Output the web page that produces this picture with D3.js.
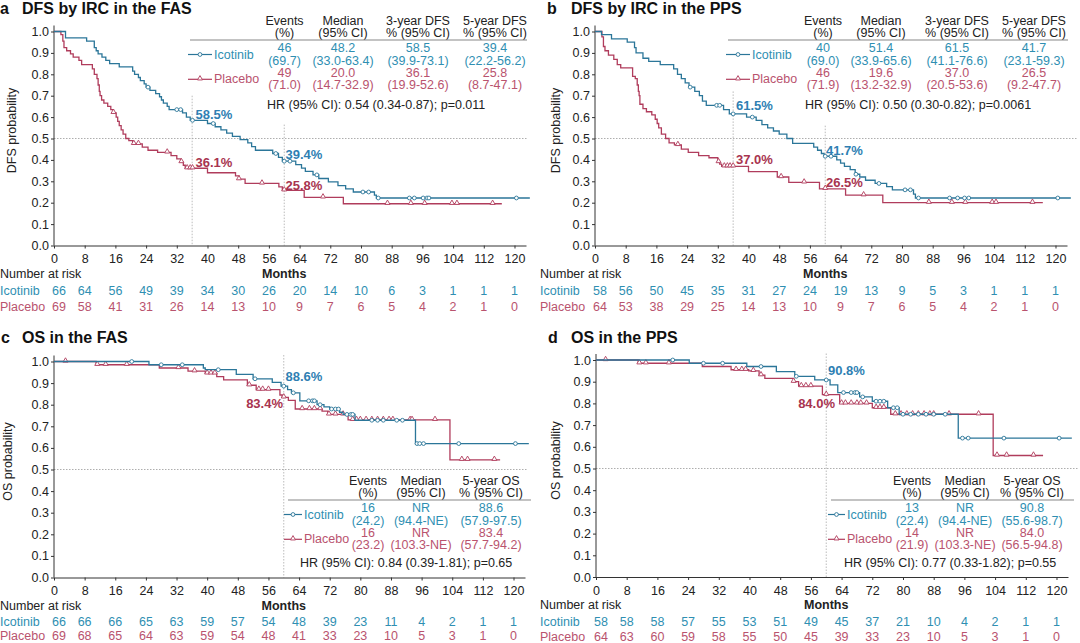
<!DOCTYPE html>
<html>
<head>
<meta charset="utf-8">
<script src="https://cdn.jsdelivr.net/npm/d3@7"></script>
<style>
  body { margin: 0; background: #fff; }
  svg { font-family: "Liberation Sans", Arial, sans-serif; }
</style>
</head>
<body>
<svg id="chart" width="1080" height="643"></svg>
<script>
// ---- data ----
var monthTicks = [0, 8, 16, 24, 32, 40, 48, 56, 64, 72, 80, 88, 96, 104, 112, 120];
var probTicks = [0, 0.1, 0.2, 0.3, 0.4, 0.5, 0.6, 0.7, 0.8, 0.9, 1.0];

// KM steps: [month, survival after the drop]; last point = last follow-up
var dfsFasIco = [[0,1],[3,0.97],[8.5,0.955],[10.5,0.925],[11,0.91],[11.5,0.895],[12.5,0.88],[13.5,0.865],[14.5,0.85],[17,0.835],[20.5,0.815],[21,0.8],[22,0.785],[22.5,0.77],[23.5,0.755],[24,0.74],[25,0.725],[26.5,0.71],[27.5,0.695],[28,0.68],[28.5,0.665],[29.5,0.65],[30,0.635],[33.5,0.62],[34.5,0.6],[35.5,0.585],[40,0.57],[42,0.555],[43.5,0.54],[45,0.525],[46.5,0.51],[48.5,0.495],[50.5,0.48],[51.5,0.462],[52.5,0.445],[57,0.43],[58.5,0.412],[59.5,0.394],[63,0.378],[64.5,0.362],[65.5,0.346],[67.5,0.33],[69,0.313],[71.5,0.297],[74,0.28],[76,0.265],[78,0.25],[83.5,0.235],[84,0.222],[124,0.222]];
var dfsFasIcoCens = [24.5, 32, 33, 36.1, 41.5, 57.8, 60, 61.5, 68.5, 80.5, 82, 84.5, 92.6, 93.9, 96.2, 97.2, 97.7, 120.5];
var dfsFasPla = [[0,1],[1.8,0.985],[2.3,0.955],[2.6,0.925],[3.3,0.91],[4.3,0.895],[5,0.88],[6.5,0.865],[7.2,0.845],[10,0.825],[10.5,0.8],[11.2,0.78],[11.5,0.75],[11.8,0.72],[12,0.7],[12.4,0.68],[13,0.665],[14,0.65],[14.8,0.635],[15.5,0.62],[16.2,0.6],[16.6,0.58],[17,0.56],[17.5,0.54],[18,0.52],[18.7,0.5],[19.5,0.49],[20.5,0.475],[23,0.46],[24.5,0.445],[27,0.435],[30.5,0.42],[32,0.405],[33,0.39],[33.7,0.375],[34.2,0.361],[40,0.34],[47.3,0.325],[48.2,0.31],[49.8,0.29],[58.6,0.274],[59.5,0.258],[65.2,0.225],[75.4,0.195],[116.7,0.195]];
var dfsFasPlaCens = [15.5, 20.8, 22, 29.5, 33.2, 34.7, 35.5, 36.1, 48.2, 54.2, 60, 70.1, 86.9, 93, 96.6, 103.7, 105, 114.3];

var dfsPpsIco = [[0,1],[1.7,0.985],[4.3,0.966],[8.4,0.95],[10.3,0.925],[10.7,0.9],[12.5,0.875],[14,0.86],[17,0.845],[20.5,0.825],[21.5,0.8],[22.5,0.78],[23.5,0.76],[24.5,0.74],[26,0.72],[27.2,0.7],[28,0.675],[29,0.655],[33.5,0.635],[35,0.615],[39.5,0.6],[42,0.585],[43.5,0.565],[45,0.55],[46.5,0.535],[48,0.52],[50,0.5],[51.5,0.477],[57,0.46],[58,0.445],[59,0.43],[59.7,0.417],[63,0.4],[64,0.385],[65,0.37],[66.5,0.355],[67.8,0.333],[69,0.32],[70.5,0.305],[73,0.29],[76,0.275],[77.5,0.26],[83,0.24],[83.5,0.222],[124,0.222]];
var dfsPpsIcoCens = [24.8, 31.7, 32.5, 36, 41, 60, 61.5, 68, 74, 80.8, 82.2, 84.3, 92.4, 94.5, 96.3, 97.4, 120.6];
var dfsPpsPla = [[0,1],[1.8,0.975],[2.2,0.93],[2.6,0.91],[3.5,0.89],[4.9,0.87],[5.8,0.845],[6.7,0.83],[9.8,0.79],[10.5,0.78],[11,0.75],[11.3,0.72],[11.5,0.7],[11.7,0.66],[12.5,0.64],[13.4,0.625],[14.8,0.61],[15.7,0.59],[16.2,0.57],[16.6,0.55],[17.3,0.52],[18.4,0.5],[19.3,0.48],[20.7,0.47],[22.5,0.45],[24.3,0.435],[27,0.42],[29.7,0.41],[32,0.39],[32.5,0.38],[33,0.37],[40,0.345],[47.5,0.32],[50.5,0.295],[58.5,0.265],[65.3,0.235],[75,0.2],[116.7,0.2]];
var dfsPpsPlaCens = [21.6, 32.2, 33.7, 34.5, 35.2, 36, 48.5, 54.5, 60, 70, 87, 93, 96.5, 103.5, 104.5, 114];

var osFasIco = [[0,1],[24.8,0.985],[39,0.97],[39.5,0.962],[47.6,0.94],[52,0.92],[57,0.903],[59.3,0.886],[61,0.87],[62,0.855],[64.2,0.818],[68.7,0.8],[70.5,0.79],[72,0.78],[74.6,0.765],[75.5,0.755],[78.6,0.728],[94.4,0.62],[124,0.62]];
var osFasIcoCens = [20.3, 28, 33.5, 42.9, 52.5, 60, 62.5, 66.5, 67.5, 68, 69.5, 72.5, 73.5, 74.3, 76.5, 77.5, 78, 83, 84.5, 86, 89.5, 91, 94.8, 95.5, 96.5, 105.7, 120.5];
var osFasPla = [[0,1],[11,0.985],[27.5,0.97],[35,0.955],[39.5,0.945],[42.5,0.93],[44.3,0.915],[50.5,0.89],[52.8,0.87],[59,0.845],[59.6,0.834],[61.2,0.82],[63,0.78],[70,0.77],[71.5,0.755],[76.8,0.73],[103.4,0.545],[116.5,0.545]];
var osFasPlaCens = [3, 11.3, 13.5, 19, 32.5, 36.7, 40, 41, 42, 51, 53.5, 54.5, 56, 60, 64.8, 66.7, 68, 69.5, 71.8, 73.5, 75.5, 78, 79, 80, 81.5, 83, 84.5, 86, 87.5, 88.5, 93, 93.5, 99.5, 106.5, 108, 115];

var osPpsIco = [[0,1],[24.3,0.985],[39.3,0.97],[47,0.946],[51.8,0.925],[57,0.908],[61,0.885],[63,0.85],[68.7,0.83],[72,0.81],[76,0.78],[79,0.75],[94.4,0.64],[124,0.64]];
var osPpsIcoCens = [20, 28, 33, 43, 52.2, 60, 64.5, 66.5, 67.5, 68, 69.5, 73, 74, 75, 77.5, 78.5, 80, 82, 84, 86, 88, 91, 95.5, 97, 106.3, 120.7];
var osPpsPla = [[0,1],[11,0.985],[27.7,0.97],[35.2,0.955],[39.8,0.95],[42.5,0.93],[44,0.915],[51.5,0.9],[52.8,0.88],[59,0.84],[63.5,0.8],[72,0.78],[76.8,0.75],[103.5,0.56],[116.5,0.56]];
var osPpsPlaCens = [2.5, 11.3, 13, 19, 36.5, 38, 39, 41, 43, 51.5, 53.5, 54.7, 56, 60, 64, 65, 66.5, 68, 69, 70.5, 73, 74, 75, 78, 79.5, 81, 82.5, 84, 85.5, 87, 88, 92, 99.7, 104.5, 107, 114];

// number at risk
var dfsFasIcoRisk = [66, 64, 56, 49, 39, 34, 30, 26, 20, 14, 10, 6, 3, 1, 1, 1];
var dfsFasPlaRisk = [69, 58, 41, 31, 26, 14, 13, 10, 9, 7, 6, 5, 4, 2, 1, 0];
var dfsPpsIcoRisk = [58, 56, 50, 45, 35, 31, 27, 24, 19, 13, 9, 5, 3, 1, 1, 1];
var dfsPpsPlaRisk = [64, 53, 38, 29, 25, 14, 13, 10, 9, 7, 6, 5, 4, 2, 1, 0];
var osFasIcoRisk = [66, 66, 66, 65, 63, 59, 57, 54, 48, 39, 23, 11, 4, 2, 1, 1];
var osFasPlaRisk = [69, 68, 65, 64, 63, 59, 54, 48, 41, 33, 23, 10, 5, 3, 1, 0];
var osPpsIcoRisk = [58, 58, 58, 57, 55, 53, 51, 49, 45, 37, 21, 10, 4, 2, 1, 1];
var osPpsPlaRisk = [64, 63, 60, 59, 58, 55, 50, 45, 39, 33, 23, 10, 5, 3, 1, 0];

// summary tables
var dfsHeader = [["Events", "(%)"], ["Median", "(95% CI)"], ["3-year DFS", "% (95% CI)"], ["5-year DFS", "% (95% CI)"]];
var osHeader = [["Events", "(%)"], ["Median", "(95% CI)"], ["5-year OS", "% (95% CI)"]];
var dfsFasIcoStats = [["46", "(69.7)"], ["48.2", "(33.0-63.4)"], ["58.5", "(39.9-73.1)"], ["39.4", "(22.2-56.2)"]];
var dfsFasPlaStats = [["49", "(71.0)"], ["20.0", "(14.7-32.9)"], ["36.1", "(19.9-52.6)"], ["25.8", "(8.7-47.1)"]];
var dfsPpsIcoStats = [["40", "(69.0)"], ["51.4", "(33.9-65.6)"], ["61.5", "(41.1-76.6)"], ["41.7", "(23.1-59.3)"]];
var dfsPpsPlaStats = [["46", "(71.9)"], ["19.6", "(13.2-32.9)"], ["37.0", "(20.5-53.6)"], ["26.5", "(9.2-47.7)"]];
var osFasIcoStats = [["16", "(24.2)"], ["NR", "(94.4-NE)"], ["88.6", "(57.9-97.5)"]];
var osFasPlaStats = [["16", "(23.2)"], ["NR", "(103.3-NE)"], ["83.4", "(57.7-94.2)"]];
var osPpsIcoStats = [["13", "(22.4)"], ["NR", "(94.4-NE)"], ["90.8", "(55.6-98.7)"]];
var osPpsPlaStats = [["14", "(21.9)"], ["NR", "(103.3-NE)"], ["84.0", "(56.5-94.8)"]];
var hrText = ["HR (95% CI): 0.54 (0.34-0.87); p=0.011", "HR (95% CI): 0.50 (0.30-0.82); p=0.0061",
              "HR (95% CI): 0.84 (0.39-1.81); p=0.65", "HR (95% CI): 0.77 (0.33-1.82); p=0.55"];

// ---- drawing ----
var ICO = "#2f8fb2", ICO_LINE = "#2b7699", ICO_BOLD = "#2f7fb3";
var PLA = "#b9536e", PLA_LINE = "#b03c5c", PLA_BOLD = "#a8344f";
var FS = 12.5;
var svg = d3.select("#chart");

var survAt = function(steps, t) {
  var s = 1;
  steps.forEach(function(p) { if (p[0] <= t) s = p[1]; });
  return s;
};

var drawPanel = function(p) {
  var x = d3.scaleLinear().domain([0, 123]).range([p.left, p.right]);
  var y = d3.scaleLinear().domain([0, 1]).range([p.bottom, p.top]);
  var g = svg.append("g");

  // title
  g.append("text").attr("x", p.letterX).attr("y", p.titleY)
    .attr("font-size", 16).attr("font-weight", "bold").attr("fill", "#111").text(p.letter);
  g.append("text").attr("x", p.titleX).attr("y", p.titleY)
    .attr("font-size", 16).attr("font-weight", "bold").attr("fill", "#111").text(p.title);

  // reference lines
  g.append("line")
    .attr("x1", p.left).attr("x2", p.refRight)
    .attr("y1", y(0.5)).attr("y2", y(0.5))
    .attr("stroke", "#999").attr("stroke-width", 0.8).attr("stroke-dasharray", "1.5,1.5");
  p.landmarks.forEach(function(lm) {
    g.append("line")
      .attr("x1", x(lm[0])).attr("x2", x(lm[0]))
      .attr("y1", y(lm[1])).attr("y2", y(0))
      .attr("stroke", "#aaa").attr("stroke-width", 0.8).attr("stroke-dasharray", "1.5,1.5");
  });

  // axes
  var xa = g.append("g").attr("transform", "translate(0," + p.bottom + ")")
    .call(d3.axisBottom(x).tickValues(monthTicks).tickSize(3).tickSizeOuter(0).tickPadding(6));
  var ya = g.append("g").attr("transform", "translate(" + p.left + ",0)")
    .call(d3.axisLeft(y).tickValues(probTicks).tickFormat(d3.format(".1f")).tickSize(3).tickSizeOuter(0).tickPadding(2));
  ya.select(".domain").attr("d", "M0," + (p.top - 6) + "V" + p.bottom);
  [xa, ya].forEach(function(a) {
    a.selectAll(".domain, line").attr("stroke", "#333").attr("stroke-width", 1);
    a.selectAll("text").attr("font-size", FS).attr("fill", "#222")
      .attr("font-family", "Liberation Sans, Arial, sans-serif");
  });

  g.append("text")
    .attr("transform", "translate(" + p.ylabX + "," + ((p.top + p.bottom) / 2 - 8) + ") rotate(-90)")
    .attr("text-anchor", "middle").attr("font-size", FS).attr("fill", "#222").text(p.ylab);

  // curves
  var line = d3.line()
    .x(function(d) { return x(d[0]); })
    .y(function(d) { return y(d[1]); })
    .curve(d3.curveStepAfter);
  var tri = d3.symbol().type(d3.symbolTriangle).size(11);

  [[p.pla, p.plaCens, PLA_LINE, "tri"], [p.ico, p.icoCens, ICO_LINE, "circ"]].forEach(function(s) {
    g.append("path").datum(s[0]).attr("d", line)
      .attr("fill", "none").attr("stroke", s[2]).attr("stroke-width", 1.3);
    var cg = g.append("g");
    s[1].forEach(function(t) {
      if (s[3] === "circ") {
        cg.append("circle").attr("cx", x(t)).attr("cy", y(survAt(s[0], t))).attr("r", 1.9)
          .attr("fill", "#fff").attr("stroke", s[2]).attr("stroke-width", 0.9);
      } else {
        cg.append("path").attr("d", tri)
          .attr("transform", "translate(" + x(t) + "," + (y(survAt(s[0], t)) - 0.8) + ")")
          .attr("fill", "#fff").attr("stroke", s[2]).attr("stroke-width", 0.9);
      }
    });
  });

  // landmark labels
  p.labels.forEach(function(l) {
    g.append("text").attr("x", l[0]).attr("y", l[1])
      .attr("text-anchor", l[4] || "start")
      .attr("font-size", 13).attr("font-weight", "bold").attr("fill", l[3]).text(l[2]);
  });

  // summary table
  var T = p.tableY;
  p.header.forEach(function(h, i) {
    g.append("text").attr("x", p.cols[i]).attr("y", T).attr("text-anchor", "middle")
      .attr("font-size", FS).attr("fill", "#222").text(h[0]);
    g.append("text").attr("x", p.cols[i]).attr("y", T + 12.5).attr("text-anchor", "middle")
      .attr("font-size", FS).attr("fill", "#222").text(h[1]);
  });
  g.append("line").attr("x1", p.ul[0]).attr("x2", p.ul[1])
    .attr("y1", T + 15.5).attr("y2", T + 15.5).attr("stroke", "#888").attr("stroke-width", 1.2);

  [[p.icoStats, ICO, ICO_LINE, "Icotinib", 0, "circ"], [p.plaStats, PLA, PLA_LINE, "Placebo", 24.8, "tri"]].forEach(function(r) {
    var off = r[4];
    r[0].forEach(function(v, i) {
      g.append("text").attr("x", p.cols[i]).attr("y", T + 27.5 + off).attr("text-anchor", "middle")
        .attr("font-size", FS).attr("fill", r[1]).text(v[0]);
      g.append("text").attr("x", p.cols[i]).attr("y", T + 40 + off).attr("text-anchor", "middle")
        .attr("font-size", FS).attr("fill", r[1]).text(v[1]);
    });
    var ly = T + 34 + off;
    g.append("line").attr("x1", p.legX).attr("x2", p.legX + p.legW)
      .attr("y1", ly - 4).attr("y2", ly - 4).attr("stroke", r[2]).attr("stroke-width", 1.2);
    if (r[5] === "circ") {
      g.append("circle").attr("cx", p.legX + p.legW / 2).attr("cy", ly - 4).attr("r", 1.9)
        .attr("fill", "#fff").attr("stroke", r[2]).attr("stroke-width", 0.9);
    } else {
      g.append("path").attr("d", tri)
        .attr("transform", "translate(" + (p.legX + p.legW / 2) + "," + (ly - 4.8) + ")")
        .attr("fill", "#fff").attr("stroke", r[2]).attr("stroke-width", 0.9);
    }
    g.append("text").attr("x", p.legX + p.legW + 2).attr("y", ly)
      .attr("font-size", FS).attr("fill", r[1]).text(r[3]);
  });
  g.append("text").attr("x", p.hrX).attr("y", T + p.hrDy)
    .attr("font-size", FS).attr("fill", "#222").text(p.hr);

  // number at risk
  var rb = p.bottom;
  g.append("text").attr("x", p.rowX).attr("y", rb + 32).attr("font-size", FS).attr("fill", "#222").text("Number at risk");
  g.append("text").attr("x", x(60)).attr("y", rb + 32).attr("text-anchor", "middle")
    .attr("font-size", FS).attr("font-weight", "bold").attr("fill", "#222").text("Months");
  [[p.icoRisk, ICO, "Icotinib", p.riskDy[0]], [p.plaRisk, PLA, "Placebo", p.riskDy[1]]].forEach(function(r) {
    g.append("text").attr("x", p.rowX).attr("y", rb + r[3]).attr("font-size", FS).attr("fill", r[1]).text(r[2]);
    r[0].forEach(function(n, i) {
      g.append("text").attr("x", x(monthTicks[i]) + (i === 0 ? 5 : 0)).attr("y", rb + r[3])
        .attr("text-anchor", "middle").attr("font-size", FS).attr("fill", r[1]).text(n);
    });
  });
};

drawPanel({
  letter: "a", letterX: 0, title: "DFS by IRC in the FAS", titleX: 22, titleY: 13.5,
  left: 54, right: 526, top: 31.5, bottom: 245.5, refRight: 527, ylab: "DFS probability", ylabX: 15.5,
  landmarks: [[36, 0.7], [60, 0.565]],
  ico: dfsFasIco, icoCens: dfsFasIcoCens, pla: dfsFasPla, plaCens: dfsFasPlaCens,
  labels: [[195.5, 118.5, "58.5%", ICO_BOLD], [195.5, 166.5, "36.1%", PLA_BOLD],
           [285.5, 158.5, "39.4%", ICO_BOLD], [285.5, 189.5, "25.8%", PLA_BOLD]],
  header: dfsHeader, icoStats: dfsFasIcoStats, plaStats: dfsFasPlaStats, hr: hrText[0],
  tableY: 24.5, cols: [284.5, 343, 418, 495], ul: [190, 527], legX: 188, legW: 24, hrX: 267, hrDy: 84,
  icoRisk: dfsFasIcoRisk, plaRisk: dfsFasPlaRisk, rowX: 0, riskDy: [49, 65.5]
});

drawPanel({
  letter: "b", letterX: 547, title: "DFS by IRC in the PPS", titleX: 571, titleY: 13.5,
  left: 595, right: 1067, top: 31.5, bottom: 245.5, refRight: 1078, ylab: "DFS probability", ylabX: 560,
  landmarks: [[36, 0.72], [60, 0.56]],
  ico: dfsPpsIco, icoCens: dfsPpsIcoCens, pla: dfsPpsPla, plaCens: dfsPpsPlaCens,
  labels: [[736, 109.5, "61.5%", ICO_BOLD], [736, 163.5, "37.0%", PLA_BOLD],
           [826, 154.5, "41.7%", ICO_BOLD], [826, 186.5, "26.5%", PLA_BOLD]],
  header: dfsHeader, icoStats: dfsPpsIcoStats, plaStats: dfsPpsPlaStats, hr: hrText[1],
  tableY: 24.5, cols: [823, 881, 957, 1034], ul: [728, 1068], legX: 726, legW: 24, hrX: 805, hrDy: 84,
  icoRisk: dfsPpsIcoRisk, plaRisk: dfsPpsPlaRisk, rowX: 540, riskDy: [49, 65.5]
});

drawPanel({
  letter: "c", letterX: 1, title: "OS in the FAS", titleX: 22, titleY: 343,
  left: 54, right: 525, top: 361.5, bottom: 577.5, refRight: 527, ylab: "OS probability", ylabX: 12,
  landmarks: [[60, 1.03]],
  ico: osFasIco, icoCens: osFasIcoCens, pla: osFasPla, plaCens: osFasPlaCens,
  labels: [[285.5, 381, "88.6%", ICO_BOLD], [283, 407.5, "83.4%", PLA_BOLD, "end"]],
  header: osHeader, icoStats: osFasIcoStats, plaStats: osFasPlaStats, hr: hrText[2],
  tableY: 484.5, cols: [368, 421, 491], ul: [288, 531], legX: 284, legW: 18, hrX: 300, hrDy: 82,
  icoRisk: osFasIcoRisk, plaRisk: osFasPlaRisk, rowX: 0, riskDy: [48, 62]
});

drawPanel({
  letter: "d", letterX: 548, title: "OS in the PPS", titleX: 571, titleY: 343,
  left: 596, right: 1068, top: 360, bottom: 577, refRight: 1078, ylab: "OS probability", ylabX: 560,
  landmarks: [[60, 1.03]],
  ico: osPpsIco, icoCens: osPpsIcoCens, pla: osPpsPla, plaCens: osPpsPlaCens,
  labels: [[828, 375, "90.8%", ICO_BOLD], [835, 408, "84.0%", PLA_BOLD, "end"]],
  header: osHeader, icoStats: osPpsIcoStats, plaStats: osPpsPlaStats, hr: hrText[3],
  tableY: 484.5, cols: [912, 965, 1032], ul: [831, 1074], legX: 828, legW: 17, hrX: 844, hrDy: 82,
  icoRisk: osPpsIcoRisk, plaRisk: osPpsPlaRisk, rowX: 540, riskDy: [48.5, 63.5]
});
</script>
</body>
</html>
